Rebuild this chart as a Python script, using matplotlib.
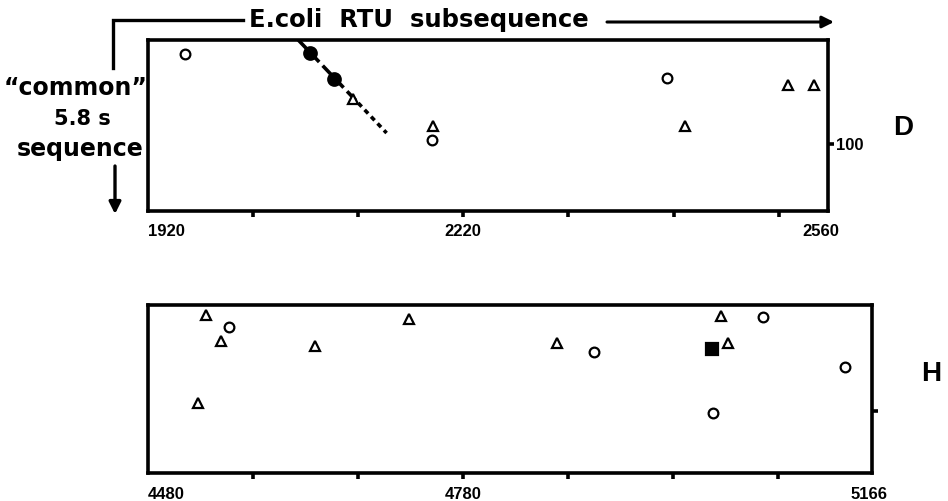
import matplotlib
matplotlib.use("Agg")
import matplotlib.pyplot as plt

# panel D (top)
d_circle_x = [1955, 2190, 2414]
d_circle_y = [145, 102, 133]
d_filled_x = [2074, 2097]
d_filled_y = [145.5, 132.5]
d_tri_x = [2115, 2191, 2431, 2529, 2554]
d_tri_y = [122.5, 109, 109, 129.5, 129.5]
d_line_x = [2063, 2120, 2147]
d_line_y = [152, 120.5, 105.5]
d_ticks = [2020, 2120, 2220, 2320, 2420, 2520]
d_labels_at = [1920, 2220, 2560]
d_labels = ["1920", "2220", "2560"]

# panel H (bottom)
h_circle_x = [4557, 4904, 5065, 5143, 5018]
h_circle_y = [142, 129.5, 147, 122, 99]
h_tri_x = [4535, 4549, 4528, 4639, 4728, 4869, 5025, 5032]
h_tri_y = [148, 135, 104, 132.5, 146, 134, 147.5, 134]
h_square_x = [5017]
h_square_y = [131]
h_ticks = [4580, 4680, 4780, 4880, 4980, 5080]
h_labels_at = [4480, 4780, 5166]
h_labels = ["4480", "4780", "5166"]

W, H = 948, 501
BOLD = ["Liberation Sans", "DejaVu Sans"]


def fx(px):
    return px / W


def fy(py):
    return 1 - py / H


def style_axes(ax, ticks, labels_at, labels, right_label, pad):
    for s in ax.spines.values():
        s.set_linewidth(2.6)
    ax.xaxis.remove_overlapping_locs = False
    ax.set_xticks(ticks)
    ax.set_xticklabels([])
    ax.set_xticks(labels_at, labels, minor=True)
    ax.tick_params(axis="x", which="major", direction="out", length=4, width=2.6)
    ax.tick_params(axis="x", which="minor", length=0, pad=pad)
    for t in ax.get_xticklabels(minor=True):
        t.set_fontfamily(BOLD)
        t.set_fontweight("bold")
        t.set_fontsize(12)
    ax.get_xticklabels(minor=True)[0].set_ha("left")
    ax.yaxis.tick_right()
    ax.set_yticks([100], [right_label])
    ax.tick_params(axis="y", direction="out", length=4, width=2.6, pad=2)
    for t in ax.get_yticklabels():
        t.set_fontfamily(BOLD)
        t.set_fontweight("bold")
        t.set_fontsize(12)


fig = plt.figure(figsize=(9.48, 5.01), dpi=100)

mk = dict(linestyle="none", markeredgecolor="black", markeredgewidth=1.6)

ax1 = fig.add_axes([fx(148), fy(211), fx(828) - fx(148), fy(40) - fy(211)])
ax1.set_xlim(1920, 2567)
ax1.set_ylim(66.5, 152)
ax1.plot(d_line_x[:2], d_line_y[:2], color="black", lw=2.6, dashes=(3.5, 1.4))
ax1.plot(d_line_x[1:], d_line_y[1:], color="black", lw=2.6, dashes=(1.4, 1.2))
ax1.plot(d_circle_x, d_circle_y, marker="o", markersize=7, markerfacecolor="white", **mk)
ax1.plot(d_filled_x, d_filled_y, marker="o", markersize=9, markerfacecolor="black", **mk)
ax1.plot(d_tri_x, d_tri_y, marker="^", markersize=6.5, markerfacecolor="white", **mk)
style_axes(ax1, d_ticks, d_labels_at, d_labels, "100", 9)

ax2 = fig.add_axes([fx(148), fy(473), fx(872) - fx(148), fy(305) - fy(473)])
ax2.set_xlim(4480, 5169)
ax2.set_ylim(69, 153)
ax2.plot(h_circle_x, h_circle_y, marker="o", markersize=7, markerfacecolor="white", **mk)
ax2.plot(h_tri_x, h_tri_y, marker="^", markersize=6.5, markerfacecolor="white", **mk)
ax2.plot(h_square_x, h_square_y, marker="s", markersize=8.5, markerfacecolor="black", **mk)
style_axes(ax2, h_ticks, h_labels_at, h_labels, "", 10)

# header bracket and arrows
fig.add_artist(plt.Line2D([fx(113), fx(113), fx(243)], [fy(68), fy(20), fy(20)],
                          color="black", lw=2.4, solid_joinstyle="miter"))
fig.text(fx(419), fy(20), "E.coli  RTU  subsequence", ha="center", va="center",
         fontsize=17.5, fontweight="bold", family=["DejaVu Sans"])
fig.add_artist(matplotlib.patches.FancyArrowPatch(
    (fx(607), fy(22)), (fx(834), fy(22)), transform=fig.transFigure,
    arrowstyle="-|>,head_length=7,head_width=3.5", color="black", lw=2.2,
    shrinkA=0, shrinkB=0))
fig.add_artist(matplotlib.patches.FancyArrowPatch(
    (fx(115), fy(166)), (fx(115), fy(214)), transform=fig.transFigure,
    arrowstyle="-|>,head_length=7,head_width=3.5", color="black", lw=2.4,
    shrinkA=0, shrinkB=0))

fig.text(fx(76), fy(88), "\u201ccommon\u201d", ha="center", va="center",
         fontsize=17, fontweight="bold", family=["DejaVu Sans"])
fig.text(fx(82), fy(119), "5.8 s", ha="center", va="center",
         fontsize=15, fontweight="bold", family=["Liberation Sans Narrow", "DejaVu Sans"])
fig.text(fx(80), fy(149), "sequence", ha="center", va="center",
         fontsize=17, fontweight="bold", family=["DejaVu Sans"])

fig.text(fx(903), fy(128), "D", ha="center", va="center",
         fontsize=20, fontweight="bold", family=BOLD)
fig.text(fx(931), fy(374), "H", ha="center", va="center",
         fontsize=20, fontweight="bold", family=BOLD)

fig.savefig("out.png", dpi=100)
